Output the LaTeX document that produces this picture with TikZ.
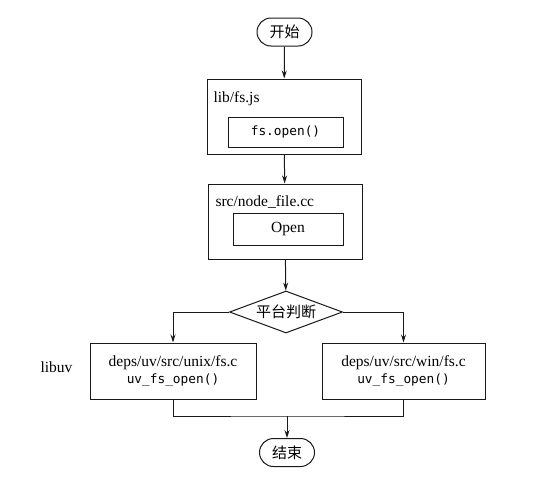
\documentclass[tikz,border=0pt]{standalone}
\usepackage{fontspec}
\setmainfont{Liberation Serif}
\setmonofont{DejaVu Sans Mono}
\newfontfamily\cjk{Noto Sans CJK SC}
\usetikzlibrary{shapes.geometric,arrows.meta}
\begin{document}
\begin{tikzpicture}[x=1pt,y=-1pt,
  line width=1pt, draw=black!90,
  every node/.style={font=\fontsize{15.5}{18}\selectfont},
  term/.style={draw, rectangle, rounded corners=14pt, minimum width=55pt, minimum height=28pt, inner sep=0pt, font=\cjk\fontsize{15}{18}\selectfont},
  outerbox/.style={draw, rectangle, minimum width=154pt, minimum height=75pt, inner sep=0pt},
  innerbox/.style={draw, rectangle, inner sep=0pt},
  decide/.style={draw, diamond, aspect=2.7, inner sep=0pt, minimum width=113pt, minimum height=42pt, font=\cjk\fontsize{15}{18}\selectfont},
  libbox/.style={draw, rectangle, minimum height=56pt, inner sep=0pt, align=center, font=\fontsize{15.5}{18}\selectfont},
  code/.style={font=\ttfamily\fontsize{12.8}{14}\selectfont},
  arr/.style={-{Stealth[length=8pt,width=5pt]}},
  lbl/.style={anchor=west, inner sep=0pt}
]
\useasboundingbox (0,0) rectangle (548,477);
\fill[white] (0,0) rectangle (548,477);

\node[term] (start) at (284.5,32) {开始};

\node[outerbox] (lib) at (284,116.5) {};
\node[lbl] (libl) at (213,99) {lib/fs.js};
\node[innerbox, minimum width=115pt, minimum height=30pt, code] (fsopen) at (285.5,132) {fs.open()};

\node[outerbox] (src) at (285,221.5) {};
\node[lbl] (srcl) at (215,202) {src/node\_file.cc};
\node[innerbox, minimum width=110pt, minimum height=32pt] (open) at (288,229) {Open};

\node[decide] (dia) at (286,312) {平台判断};

\node[libbox, minimum width=166pt] (unix) at (173,371) {deps/uv/src/unix/fs.c\\[-1pt]{\ttfamily\fontsize{12.8}{14}\selectfont uv\_fs\_open()}};
\node[libbox, minimum width=163pt] (win) at (403.5,371) {deps/uv/src/win/fs.c\\[-1pt]{\ttfamily\fontsize{12.8}{14}\selectfont uv\_fs\_open()}};
\node[lbl] (libuv) at (40,367) {libuv};

\node[term] (end) at (287,452.5) {结束};

\coordinate (m) at (287,416);

\draw[arr] (start) -- (lib);
\draw[arr] (lib) -- (src);
\draw[arr] (src) -- (dia);
\draw[arr] (dia.west) -| (unix.north);
\draw[arr] (dia.east) -| (win.north);
\draw (unix.south) |- (m) -| (win.south);
\draw[arr] (m) -- (end);
\end{tikzpicture}
\end{document}
